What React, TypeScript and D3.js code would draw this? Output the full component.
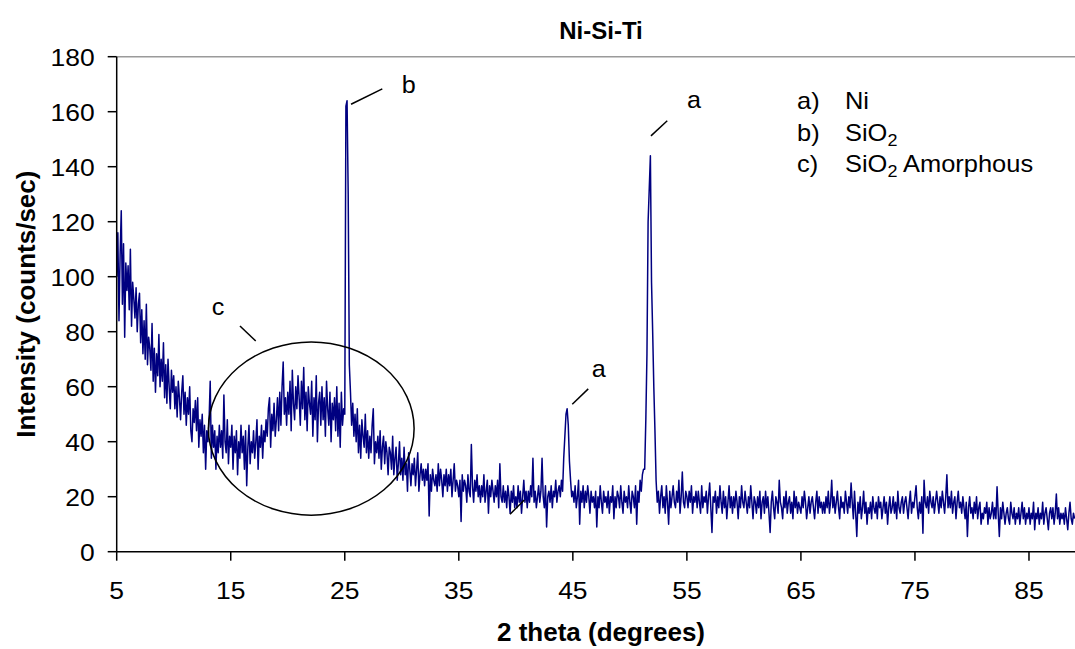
import React from "react";
import * as d3 from "d3";

const chartTitle = "Ni-Si-Ti";
const xTitle = "2 theta (degrees)";
const yTitle = "Intensity (counts/sec)";

// scan: 2θ from 5.0 to 89.0 in 0.1° steps
const scanStart = 5;
const scanStep = 0.1;
const intensity = [
  100,116,84,108,124,90,112,78,105,95,
  104,88,110,82,98,92,85,96,80,90,
  94,76,88,72,84,70,90,68,78,74,
  66,83,62,74,58,72,64,79,60,70,
  62,76,56,68,54,70,60,52,66,58,
  64,52,60,49,62,56,48,58,64,50,
  58,46,56,50,60,44,40,52,47,55,
  44,56,38,48,42,50,36,46,30,44,
  40,48,62,34,46,38,44,30,42,36,
  46,38,44,34,57,40,36,48,32,42,
  38,46,30,42,36,44,28,40,34,46,
  36,42,30,44,24,38,46,32,40,36,
  44,34,40,48,30,42,38,46,34,44,
  40,48,42,52,56,38,50,44,54,42,
  48,56,44,58,46,60,69,50,56,46,
  58,50,62,44,66,54,48,60,52,64,
  56,46,62,52,67,48,58,44,60,54,
  50,62,42,56,48,64,40,54,58,46,
  60,48,56,42,62,52,46,58,40,54,
  48,56,44,60,42,54,38,58,46,52,
  50,162,164,130,68,58,46,54,42,50,
  40,52,36,46,34,48,42,38,50,36,
  44,34,42,36,46,52,32,40,36,42,
  34,44,30,38,42,32,40,36,28,38,
  36,30,42,28,34,38,26,32,40,28,
  34,26,38,28,32,22,36,30,24,32,
  28,34,24,30,36,22,28,32,26,30,
  24,30,26,32,13,28,22,30,26,24,
  28,22,32,24,30,26,20,28,24,30,
  22,28,24,30,20,26,32,22,26,24,
  20,26,11,28,22,26,24,18,28,22,
  20,39,24,18,26,22,28,20,24,18,
  24,20,28,18,22,26,14,24,20,26,
  22,18,24,20,26,16,32,20,18,24,
  18,22,16,24,20,14,22,18,24,16,
  20,16,24,18,22,14,20,26,18,22,
  16,22,18,24,20,34,18,22,16,20,
  24,18,22,34,20,16,24,9,20,22,
  18,24,16,22,20,26,18,22,24,20,
  26,22,34,42,50,52,46,33,26,20,
  22,18,24,16,20,26,10,22,18,24,
  16,22,18,24,20,14,22,18,20,16,
  22,9,20,16,24,18,14,22,18,20,
  16,22,14,20,18,24,12,20,16,22,
  20,16,24,18,14,22,18,20,16,24,
  18,14,22,20,16,24,10,22,18,26,
  22,28,30,30,48,72,120,132,144,98,
  80,60,44,26,18,22,14,20,24,16,
  20,14,24,18,10,22,16,20,24,18,
  16,22,18,26,14,20,29,18,16,22,
  20,16,22,18,24,14,20,18,22,16,
  22,18,14,24,16,20,18,22,14,20,
  25,16,7,20,18,22,14,20,16,24,
  18,14,22,16,20,12,18,24,16,20,
  14,20,16,22,18,12,20,16,24,18,
  16,22,18,14,20,16,24,18,12,20,
  18,14,20,16,22,12,18,20,14,22,
  16,20,14,7,18,22,16,12,20,18,
  14,26,18,16,12,20,16,22,14,18,
  20,14,18,12,22,16,20,14,18,16,
  14,20,16,22,18,12,16,20,14,18,
  20,16,12,18,22,14,20,16,18,14,
  18,14,20,16,22,14,18,26,16,20,
  14,18,22,16,12,20,16,18,14,22,
  18,14,20,16,25,18,12,22,14,5.5,
  18,14,20,12,16,22,14,18,10,16,
  14,18,12,20,16,14,18,12,20,16,
  18,12,16,20,14,18,10,16,20,14,
  16,20,14,18,12,22,16,14,18,20,
  14,18,20,16,12,18,22,14,18,16,
  20,24,16,12,18,14,20,6.7,26,18,
  16,20,14,22,18,16,20,14,18,22,
  18,14,20,16,22,18,14,20,28,16,
  20,16,22,14,18,20,12,18,22,16,
  18,14,20,16,12,18,5.5,16,20,14,
  16,12,18,14,20,12,16,18,10,14,
  12,16,14,18,10,16,12,14,18,12,
  16,12,23.6,14,5.5,16,12,18,14,10,
  14,16,12,10,18,14,12,16,10,14,
  12,16,10,14,18,12,16,10,14,12,
  16,10,14,12,18,8,14,12,16,10,
  14,12,18,10,14,16,12,8,14,16,
  12,16,10,14,21,12,16,10,14,12,
  14,10,16,12,8,14,18,12,10,14,
  12,
];

const xTicks = [5, 15, 25, 35, 45, 55, 65, 75, 85];
const yTicks = [0, 20, 40, 60, 80, 100, 120, 140, 160, 180];

const legendKeys = ["a)", "b)", "c)"];
const legendNames = ["Ni", "SiO", "SiO"];
const legendSubs = ["", "2", "2"];
const legendTails = ["", "", " Amorphous"];

// peak labels (data units): label text, label anchor, leader line from -> to
const peakLabelText = ["b", "a", "a", "c"];
const peakLabelX = [30.0, 55.0, 46.65, 13.33];
const peakLabelY = [166.8, 161.3, 63.5, 86.1];
const leaderFrom = [[25.55, 162.7], [51.85, 151.2], [44.95, 53.6], [15.81, 82.1], [39.49, 13.6]];
const leaderTo = [[28.29, 168.3], [53.28, 156.7], [46.35, 59.2], [17.19, 76.6], [40.74, 18.8]];
// amorphous hump marker (data units)
const humpCenter = [22.06, 44.8];
const humpRadius = [9.02, 31.5];

const W = 1075;
const H = 649;
const FONT = "'Liberation Sans', Arial, Helvetica, sans-serif";

function T(props: {
  x: number;
  y: number;
  sx?: number;
  size: number;
  anchor?: string;
  bold?: boolean;
  children: React.ReactNode;
}) {
  const { x, y, sx = 1, size, anchor = "start", bold = false, children } = props;
  return (
    <text
      transform={`translate(${x},${y}) scale(${sx},1)`}
      textAnchor={anchor}
      fontSize={size}
      fontWeight={bold ? "bold" : "normal"}
      fill="#000"
    >
      {children}
    </text>
  );
}

export default function App() {
  const x = d3.scaleLinear().domain([5, 90]).range([116.7, 1086]);
  const y = d3.scaleLinear().domain([0, 180]).range([551.7, 56.7]);

  const pts: [number, number][] = intensity.map((v, i) => [scanStart + i * scanStep, v]);
  const line = d3
    .line<[number, number]>()
    .x((d) => x(d[0]))
    .y((d) => y(d[1]));

  const x0 = x(5);
  const yb = y(0);
  const yt = y(180);
  const tickSX = 1.08;

  return (
    <svg
      width={W}
      height={H}
      style={{ position: "absolute", left: 0, top: 0, background: "#fff" }}
      fontFamily={FONT}
    >
      <rect x={0} y={0} width={W} height={H} fill="#fff" />
      {/* plot frame top */}
      <line x1={x0} x2={x(90)} y1={yt} y2={yt} stroke="#9a9a9a" strokeWidth={1.5} />

      {/* data */}
      <path d={line(pts) || ""} fill="none" stroke="#000080" strokeWidth={1.5} strokeLinejoin="round" />

      {/* hump ellipse */}
      <ellipse
        cx={x(humpCenter[0])}
        cy={y(humpCenter[1])}
        rx={x(humpCenter[0] + humpRadius[0]) - x(humpCenter[0])}
        ry={y(humpCenter[1]) - y(humpCenter[1] + humpRadius[1])}
        fill="none"
        stroke="#000"
        strokeWidth={1.5}
      />

      {/* leader lines */}
      {leaderFrom.map((f, i) => (
        <line
          key={"ld" + i}
          x1={x(f[0])}
          y1={y(f[1])}
          x2={x(leaderTo[i][0])}
          y2={y(leaderTo[i][1])}
          stroke="#000"
          strokeWidth={1.5}
        />
      ))}
      {peakLabelText.map((t, i) => (
        <T key={"pl" + i} x={x(peakLabelX[i])} y={y(peakLabelY[i])} size={24} sx={1.05}>
          {t}
        </T>
      ))}

      {/* axes */}
      <line x1={x0} x2={x0} y1={yt} y2={yb} stroke="#000" strokeWidth={1.5} />
      <line x1={x0} x2={x(90)} y1={yb} y2={yb} stroke="#000" strokeWidth={1.5} />
      {yTicks.map((t) => (
        <g key={"yt" + t}>
          <line x1={x0 - 9} x2={x0} y1={y(t)} y2={y(t)} stroke="#000" strokeWidth={1.5} />
          <T x={x0 - 22} y={y(t) + 8.8} anchor="end" size={24.5} sx={tickSX}>
            {t}
          </T>
        </g>
      ))}
      {xTicks.map((t) => (
        <g key={"xt" + t}>
          <line x1={x(t)} x2={x(t)} y1={yb} y2={yb + 9} stroke="#000" strokeWidth={1.5} />
          <T x={x(t)} y={599} anchor="middle" size={24.5} sx={tickSX}>
            {t}
          </T>
        </g>
      ))}

      {/* titles */}
      <T x={601} y={39} anchor="middle" size={24} bold>
        {chartTitle}
      </T>
      <T x={601} y={641} anchor="middle" size={26} bold>
        {xTitle}
      </T>
      <text
        transform={`translate(35, ${(yt + yb) / 2}) rotate(-90)`}
        textAnchor="middle"
        fontSize={26}
        fontWeight="bold"
      >
        {yTitle}
      </text>

      {/* legend */}
      {legendKeys.map((k, i) => (
        <g key={"lg" + i}>
          <T x={797} y={109 + i * 31.5} size={24} sx={1.06}>
            {k}
          </T>
          <T x={845} y={109 + i * 31.5} size={24} sx={1.06}>
            {legendNames[i]}
            {legendSubs[i] ? (
              <tspan dy={5} fontSize={17}>
                {legendSubs[i]}
              </tspan>
            ) : null}
            {legendTails[i] ? <tspan dy={-5}>{legendTails[i]}</tspan> : null}
          </T>
        </g>
      ))}
    </svg>
  );
}
